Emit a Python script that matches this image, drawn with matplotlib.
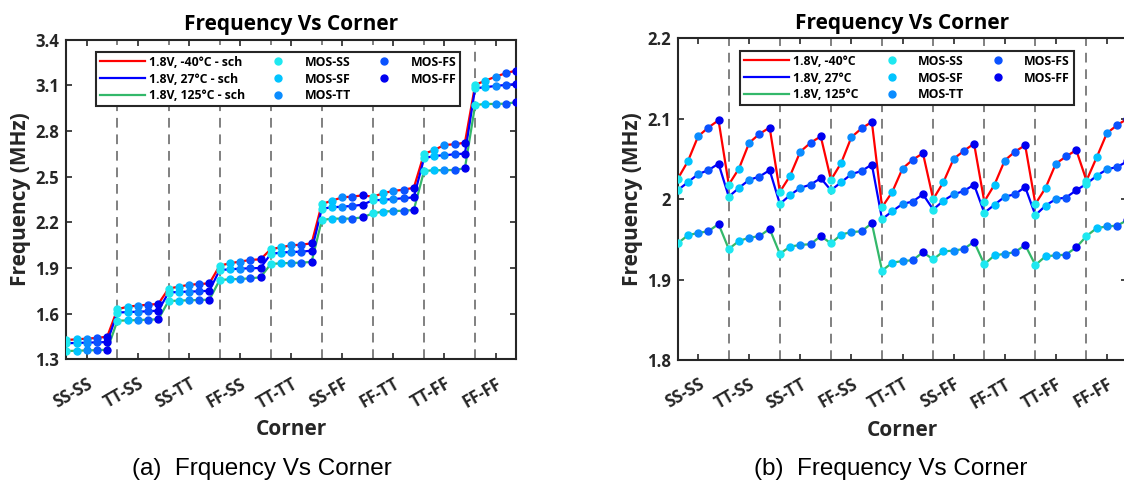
import numpy as np
import matplotlib
matplotlib.use('Agg')
import matplotlib.pyplot as plt
from matplotlib.lines import Line2D
from matplotlib.ticker import FormatStrFormatter

plt.rcParams['font.family'] = ['Open Sans', 'DejaVu Sans']
plt.rcParams['font.weight'] = 'bold'

# corners on the x axis, 5 MOS corners per group
corners = ['SS-SS', 'TT-SS', 'SS-TT', 'FF-SS', 'TT-TT', 'SS-FF', 'FF-TT', 'TT-FF', 'FF-FF']
mos = ['MOS-SS', 'MOS-SF', 'MOS-TT', 'MOS-FS', 'MOS-FF']
mos_colors = ['#1ee8f0', '#00c4ff', '#0a8cff', '#0a52ff', '#0000f0']

# (a) schematic sweep
red_sch = [1.427, 1.432, 1.436, 1.441, 1.449,
           1.629, 1.646, 1.653, 1.659, 1.664,
           1.764, 1.778, 1.789, 1.795, 1.799,
           1.915, 1.931, 1.942, 1.953, 1.957,
           2.023, 2.036, 2.049, 2.053, 2.062,
           2.320, 2.342, 2.364, 2.369, 2.377,
           2.368, 2.391, 2.406, 2.414, 2.427,
           2.649, 2.675, 2.708, 2.712, 2.723,
           3.102, 3.130, 3.156, 3.179, 3.196]
blue_sch = [1.406, 1.408, 1.410, 1.412, 1.414,
            1.607, 1.611, 1.613, 1.616, 1.620,
            1.738, 1.743, 1.745, 1.747, 1.751,
            1.887, 1.891, 1.896, 1.898, 1.900,
            1.992, 2.001, 2.005, 2.007, 2.014,
            2.290, 2.298, 2.303, 2.307, 2.316,
            2.345, 2.347, 2.353, 2.358, 2.364,
            2.620, 2.636, 2.640, 2.647, 2.651,
            3.080, 3.087, 3.095, 3.102, 3.108]
green_sch = [1.355, 1.357, 1.359, 1.361, 1.363,
             1.554, 1.556, 1.558, 1.561, 1.563,
             1.683, 1.686, 1.688, 1.690, 1.692,
             1.821, 1.826, 1.828, 1.832, 1.839,
             1.926, 1.931, 1.933, 1.935, 1.940,
             2.215, 2.224, 2.224, 2.224, 2.233,
             2.259, 2.270, 2.274, 2.276, 2.281,
             2.537, 2.542, 2.542, 2.544, 2.555,
             2.970, 2.977, 2.977, 2.979, 2.988]

# (b) 1.8 V sweep
red_18 = [2.025, 2.047, 2.078, 2.089, 2.098,
          2.018, 2.038, 2.070, 2.081, 2.089,
          2.009, 2.029, 2.059, 2.070, 2.078,
          2.024, 2.045, 2.077, 2.088, 2.096,
          1.990, 2.009, 2.038, 2.049, 2.057,
          2.000, 2.021, 2.050, 2.060, 2.069,
          1.997, 2.018, 2.048, 2.059, 2.067,
          1.994, 2.014, 2.044, 2.053, 2.061,
          2.023, 2.052, 2.082, 2.092, 2.100]
blue_18 = [2.011, 2.021, 2.031, 2.036, 2.044,
           2.003, 2.014, 2.024, 2.028, 2.036,
           1.994, 2.005, 2.014, 2.018, 2.026,
           2.011, 2.021, 2.031, 2.035, 2.043,
           1.975, 1.985, 1.994, 1.997, 2.006,
           1.987, 1.998, 2.006, 2.010, 2.018,
           1.983, 1.993, 2.003, 2.006, 2.015,
           1.980, 1.992, 2.000, 2.002, 2.011,
           2.019, 2.029, 2.037, 2.040, 2.047]
green_18 = [1.945, 1.955, 1.958, 1.960, 1.969,
            1.938, 1.948, 1.952, 1.954, 1.963,
            1.932, 1.941, 1.943, 1.944, 1.954,
            1.945, 1.956, 1.959, 1.960, 1.970,
            1.911, 1.921, 1.923, 1.924, 1.934,
            1.925, 1.935, 1.936, 1.938, 1.947,
            1.919, 1.930, 1.932, 1.934, 1.943,
            1.918, 1.929, 1.930, 1.931, 1.940,
            1.954, 1.964, 1.966, 1.967, 1.974]

line_colors = ['#ff0000', '#0000ff', '#33b86a']
labels_a = ['1.8V, -40°C - sch', '1.8V, 27°C - sch', '1.8V, 125°C - sch']
labels_b = ['1.8V, -40°C', '1.8V, 27°C', '1.8V, 125°C']

x = np.arange(1, 46)
dark = '#262626'

fig = plt.figure(figsize=(11.24, 4.86), dpi=100)
ax1 = fig.add_axes([0.0590, 0.2605, 0.4001, 0.6582])
ax2 = fig.add_axes([0.6029, 0.2593, 0.4001, 0.6620])


def draw(ax, series, labels, yticks, leg_xy):
    for b in x[5::5]:
        ax.axvline(b, color='#808080', lw=1.4, ls=(0, (5, 3.5)), zorder=1)
    handles = []
    for vals, c, lab in zip(series, line_colors, labels):
        ax.plot(x, vals, color=c, lw=1.6, zorder=2)
        handles.append(Line2D([], [], color=c, lw=1.6, label=lab))
    mk = []
    for vals in series:
        v = np.array(vals)
        for k in range(5):
            ax.plot(x[k::5], v[k::5], ls='none', marker='o', ms=5,
                    color=mos_colors[k], zorder=3)
    for k in range(5):
        mk.append(Line2D([], [], ls='none', marker='o', ms=5,
                         color=mos_colors[k], label=mos[k]))
    ax.set_xlim(1, 45)
    ax.set_ylim(yticks[0], yticks[-1])
    ax.set_yticks(yticks)
    ax.yaxis.set_major_formatter(FormatStrFormatter('%g'))
    ax.set_xticks(x[2::5])
    ax.set_xticklabels(corners, rotation=30, ha='right', rotation_mode='anchor')
    ax.tick_params(direction='in', top=True, right=True, length=4, width=1.2,
                   labelsize=12, colors=dark, pad=5)
    ax.tick_params(axis='x', pad=11)
    for s in ax.spines.values():
        s.set_linewidth(1.5)
        s.set_color(dark)
    ax.set_title('Frequency Vs Corner', fontsize=15, fontweight='bold', color='black', pad=7)
    ax.set_xlabel('Corner', fontsize=15, fontweight='bold', color=dark, labelpad=5)
    ax.set_ylabel('Frequency (MHz)', fontsize=15, fontweight='bold', color=dark, labelpad=3)
    leg = ax.legend(handles=handles + mk, ncol=3, loc='upper left',
                    bbox_to_anchor=leg_xy, bbox_transform=fig.transFigure,
                    fontsize=8.8, handlelength=3.7, handletextpad=0.3,
                    columnspacing=0.9, labelspacing=0.32, borderpad=0.3,
                    borderaxespad=0, fancybox=False, framealpha=1)
    leg.get_frame().set_edgecolor(dark)
    leg.get_frame().set_linewidth(1.5)
    leg.set_zorder(5)


draw(ax1, [red_sch, blue_sch, green_sch], labels_a,
     [1.3, 1.6, 1.9, 2.2, 2.5, 2.8, 3.1, 3.4], (96 / 1124, 1 - 52 / 486))
draw(ax2, [red_18, blue_18, green_18], labels_b,
     [1.8, 1.9, 2.0, 2.1, 2.2], (740 / 1124, 1 - 51 / 486))

fig.text(262 / 1124, 1 - 469 / 486, '(a)  Frquency Vs Corner', ha='center', va='center',
         fontsize=17.5, fontweight='normal', family='Liberation Sans')
fig.text(891 / 1124, 1 - 469 / 486, '(b)  Frequency Vs Corner', ha='center', va='center',
         fontsize=17.5, fontweight='normal', family='Liberation Sans')

fig.savefig('out.png', dpi=100)
